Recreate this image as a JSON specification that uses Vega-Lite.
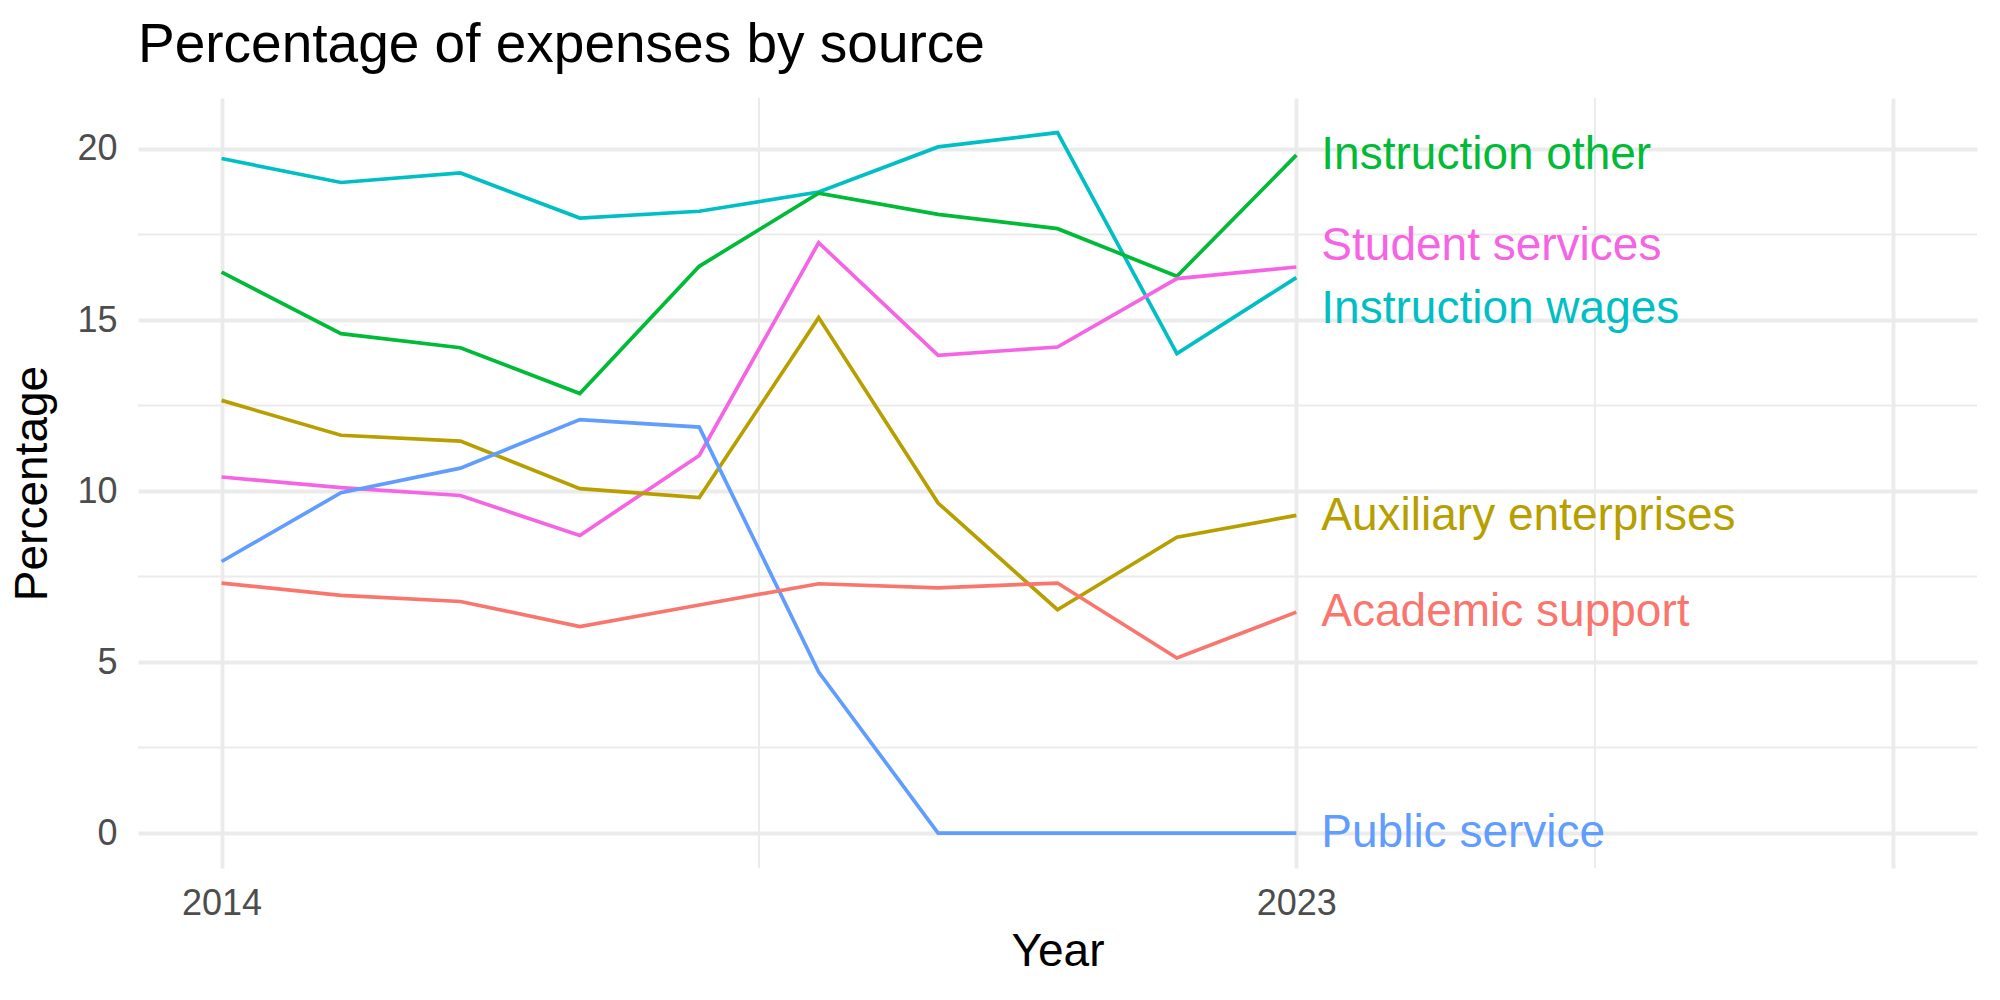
{
  "$schema": "https://vega.github.io/schema/vega-lite/v6.json",
  "autosize": "none",
  "width": 1839,
  "height": 770,
  "padding": {"left": 138, "top": 98, "right": 23, "bottom": 132},
  "background": "white",
  "config": {
    "view": {"stroke": null},
    "font": "Liberation Sans",
    "axis": {
      "labelFont": "Liberation Sans",
      "titleFont": "Liberation Sans",
      "labelFontSize": 36,
      "labelColor": "#4D4D4D",
      "titleFontSize": 46,
      "titleColor": "#000000",
      "titleFontWeight": "normal",
      "domain": false,
      "ticks": false,
      "gridColor": "#EBEBEB",
      "gridWidth": 3.8
    }
  },
  "title": {
    "text": "Percentage of expenses by source",
    "font": "Liberation Sans",
    "fontSize": 55,
    "fontWeight": "normal",
    "color": "#000000",
    "anchor": "start",
    "frame": "group",
    "baseline": "alphabetic",
    "offset": -20
  },
  "datasets": {
    "expenses": [
      {"Year": 2014, "Source": "Instruction wages", "Percentage": 19.72},
      {"Year": 2015, "Source": "Instruction wages", "Percentage": 19.02},
      {"Year": 2016, "Source": "Instruction wages", "Percentage": 19.30},
      {"Year": 2017, "Source": "Instruction wages", "Percentage": 17.98},
      {"Year": 2018, "Source": "Instruction wages", "Percentage": 18.18},
      {"Year": 2019, "Source": "Instruction wages", "Percentage": 18.74},
      {"Year": 2020, "Source": "Instruction wages", "Percentage": 20.06},
      {"Year": 2021, "Source": "Instruction wages", "Percentage": 20.48},
      {"Year": 2022, "Source": "Instruction wages", "Percentage": 14.02},
      {"Year": 2023, "Source": "Instruction wages", "Percentage": 16.24},
      {"Year": 2014, "Source": "Instruction other", "Percentage": 16.40},
      {"Year": 2015, "Source": "Instruction other", "Percentage": 14.60},
      {"Year": 2016, "Source": "Instruction other", "Percentage": 14.19},
      {"Year": 2017, "Source": "Instruction other", "Percentage": 12.85},
      {"Year": 2018, "Source": "Instruction other", "Percentage": 16.57},
      {"Year": 2019, "Source": "Instruction other", "Percentage": 18.71},
      {"Year": 2020, "Source": "Instruction other", "Percentage": 18.09},
      {"Year": 2021, "Source": "Instruction other", "Percentage": 17.67},
      {"Year": 2022, "Source": "Instruction other", "Percentage": 16.28},
      {"Year": 2023, "Source": "Instruction other", "Percentage": 19.82},
      {"Year": 2014, "Source": "Student services", "Percentage": 10.41},
      {"Year": 2015, "Source": "Student services", "Percentage": 10.10},
      {"Year": 2016, "Source": "Student services", "Percentage": 9.87},
      {"Year": 2017, "Source": "Student services", "Percentage": 8.70},
      {"Year": 2018, "Source": "Student services", "Percentage": 11.04},
      {"Year": 2019, "Source": "Student services", "Percentage": 17.26},
      {"Year": 2020, "Source": "Student services", "Percentage": 13.97},
      {"Year": 2021, "Source": "Student services", "Percentage": 14.21},
      {"Year": 2022, "Source": "Student services", "Percentage": 16.21},
      {"Year": 2023, "Source": "Student services", "Percentage": 16.55},
      {"Year": 2014, "Source": "Auxiliary enterprises", "Percentage": 12.65},
      {"Year": 2015, "Source": "Auxiliary enterprises", "Percentage": 11.63},
      {"Year": 2016, "Source": "Auxiliary enterprises", "Percentage": 11.46},
      {"Year": 2017, "Source": "Auxiliary enterprises", "Percentage": 10.07},
      {"Year": 2018, "Source": "Auxiliary enterprises", "Percentage": 9.81},
      {"Year": 2019, "Source": "Auxiliary enterprises", "Percentage": 15.07},
      {"Year": 2020, "Source": "Auxiliary enterprises", "Percentage": 9.65},
      {"Year": 2021, "Source": "Auxiliary enterprises", "Percentage": 6.53},
      {"Year": 2022, "Source": "Auxiliary enterprises", "Percentage": 8.65},
      {"Year": 2023, "Source": "Auxiliary enterprises", "Percentage": 9.29},
      {"Year": 2014, "Source": "Public service", "Percentage": 7.94},
      {"Year": 2015, "Source": "Public service", "Percentage": 9.95},
      {"Year": 2016, "Source": "Public service", "Percentage": 10.67},
      {"Year": 2017, "Source": "Public service", "Percentage": 12.09},
      {"Year": 2018, "Source": "Public service", "Percentage": 11.87},
      {"Year": 2019, "Source": "Public service", "Percentage": 4.71},
      {"Year": 2020, "Source": "Public service", "Percentage": 0},
      {"Year": 2021, "Source": "Public service", "Percentage": 0},
      {"Year": 2022, "Source": "Public service", "Percentage": 0},
      {"Year": 2023, "Source": "Public service", "Percentage": 0},
      {"Year": 2014, "Source": "Academic support", "Percentage": 7.31},
      {"Year": 2015, "Source": "Academic support", "Percentage": 6.95},
      {"Year": 2016, "Source": "Academic support", "Percentage": 6.77},
      {"Year": 2017, "Source": "Academic support", "Percentage": 6.04},
      {"Year": 2018, "Source": "Academic support", "Percentage": 6.67},
      {"Year": 2019, "Source": "Academic support", "Percentage": 7.29},
      {"Year": 2020, "Source": "Academic support", "Percentage": 7.17},
      {"Year": 2021, "Source": "Academic support", "Percentage": 7.31},
      {"Year": 2022, "Source": "Academic support", "Percentage": 5.12},
      {"Year": 2023, "Source": "Academic support", "Percentage": 6.46}
    ],
    "labels": [
      {"Year": 2023, "Source": "Instruction other", "LabelY": 19.82},
      {"Year": 2023, "Source": "Student services", "LabelY": 17.17},
      {"Year": 2023, "Source": "Instruction wages", "LabelY": 15.31},
      {"Year": 2023, "Source": "Auxiliary enterprises", "LabelY": 9.26},
      {"Year": 2023, "Source": "Academic support", "LabelY": 6.45},
      {"Year": 2023, "Source": "Public service", "LabelY": 0}
    ],
    "minorX": [{"Year": 2018.5}, {"Year": 2025.5}],
    "minorY": [{"Percentage": 2.5}, {"Percentage": 7.5}, {"Percentage": 12.5}, {"Percentage": 17.5}]
  },
  "layer": [
    {
      "data": {"name": "minorX"},
      "mark": {"type": "rule", "color": "#EBEBEB", "strokeWidth": 2},
      "encoding": {
        "x": {"field": "Year", "type": "quantitative"}
      }
    },
    {
      "data": {"name": "minorY"},
      "mark": {"type": "rule", "color": "#EBEBEB", "strokeWidth": 2},
      "encoding": {
        "y": {"field": "Percentage", "type": "quantitative"}
      }
    },
    {
      "data": {"name": "expenses"},
      "mark": {"type": "line", "strokeWidth": 3.7, "strokeJoin": "miter"},
      "encoding": {
        "x": {
          "field": "Year",
          "type": "quantitative",
          "scale": {"domain": [2013.3, 2028.7], "nice": false, "zero": false},
          "axis": {
            "values": [2014, 2023, 2028],
            "labelExpr": "datum.value == 2028 ? '' : datum.label",
            "format": "d",
            "labelPadding": 18,
            "titlePadding": 8,
            "title": "Year"
          }
        },
        "y": {
          "field": "Percentage",
          "type": "quantitative",
          "scale": {"domain": [-1.02, 21.49], "nice": false, "zero": false},
          "axis": {
            "values": [0, 5, 10, 15, 20],
            "labelPadding": 21,
            "titlePadding": 20,
            "title": "Percentage"
          }
        },
        "color": {
          "field": "Source",
          "type": "nominal",
          "scale": {
            "domain": ["Academic support", "Auxiliary enterprises", "Instruction other", "Instruction wages", "Public service", "Student services"],
            "range": ["#F8766D", "#B79F00", "#00BA38", "#00BFC4", "#619CFF", "#F564E3"]
          },
          "legend": null
        },
        "detail": {"field": "Source"}
      }
    },
    {
      "data": {"name": "labels"},
      "mark": {"type": "text", "align": "left", "baseline": "middle", "dx": 25, "fontSize": 46, "font": "Liberation Sans"},
      "encoding": {
        "x": {"field": "Year", "type": "quantitative"},
        "y": {"field": "LabelY", "type": "quantitative"},
        "text": {"field": "Source"},
        "color": {"field": "Source", "type": "nominal", "legend": null}
      }
    }
  ]
}
